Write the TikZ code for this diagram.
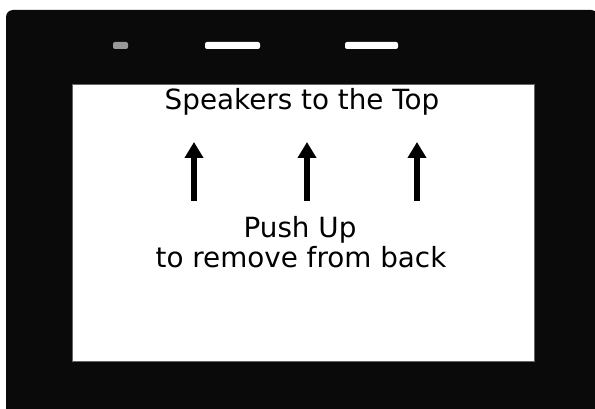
\documentclass[tikz,border=0pt]{standalone}
\usepackage{fontspec}
\setmainfont{DejaVu Sans}
\usetikzlibrary{arrows.meta,positioning}
\tikzset{
  frame/.style={fill=black!96, rounded corners=7pt},
  screen/.style={fill=white, draw=black!60, line width=0.6pt},
  slot/.style={fill=white, rounded corners=2pt},
  led/.style={fill=black!40, rounded corners=2pt},
  label/.style={anchor=base, inner sep=0pt, font=\fontsize{27.8}{30}\selectfont},
  up/.style={-{Triangle[length=16pt, width=18pt]}, line width=6pt}
}
\begin{document}
\begin{tikzpicture}[x=1pt, y=-1pt]
\useasboundingbox (0,0) rectangle (595,409);
\clip (0,0) rectangle (595,409);
\fill[frame] (6,10) rectangle (598,420);
\fill[led] (113,42) rectangle (128,49);
\fill[slot] (205,42) rectangle (260,49);
\fill[slot] (345,42) rectangle (398,49);
\draw[screen] (72,84) rectangle (534,361);

\node[label] (top) at (302,110) {Speakers to the Top};
\node[label] (push) at (300,237) {Push Up};
\node[label] (remove) at (301,268) {to remove from back};

\coordinate (t1) at (194,201); \coordinate (h1) at (194,142);
\coordinate (t2) at (307,201); \coordinate (h2) at (307,142);
\coordinate (t3) at (417,201); \coordinate (h3) at (417,142);
\draw[up] (t1) -- (h1); \draw[up] (t2) -- (h2); \draw[up] (t3) -- (h3);
\end{tikzpicture}
\end{document}
